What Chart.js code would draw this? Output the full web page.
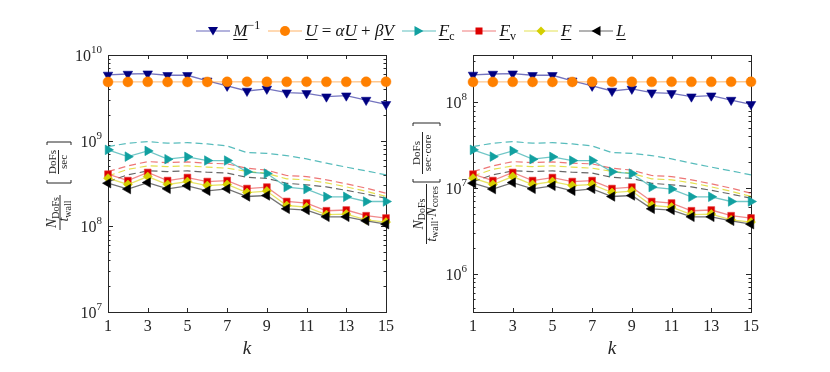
<!DOCTYPE html>
<html lang="en">

<head>
    <meta charset="UTF-8" />
    <title>Throughput vs k</title>
    <script src="https://cdn.jsdelivr.net/npm/chart.js"></script>
    <style>
        body {
            margin: 0;
            background: #fff;
        }

        #wrap {
            position: relative;
            width: 830px;
            height: 372px;
        }

        #wrap canvas {
            position: absolute;
            left: 0;
            top: 0;
        }

        #legend {
            position: absolute;
            left: 0;
            top: 21px;
            width: 830px;
            height: 20px;
            display: flex;
            justify-content: center;
            align-items: center;
            font-family: 'Liberation Serif', serif;
            font-size: 17px;
            color: #111;
            z-index: 2;
        }

        #legend svg {
            margin-right: 3px;
        }

        #legend .item {
            margin-right: 8px;
            white-space: nowrap;
        }

        #legend .u {
            text-decoration: underline;
            text-decoration-thickness: 1px;
            text-underline-offset: 3px;
        }

        #legend sub,
        #legend sup {
            font-size: 12px;
            line-height: 0;
        }
    </style>
</head>

<body>
    <div id="wrap">
        <div id="legend"></div>
        <canvas id="leftChart" width="830" height="372"></canvas>
        <canvas id="rightChart" width="830" height="372"></canvas>
    </div>

    <script>
        // k values (x axis)
        const kValues = [1, 2, 3, 4, 5, 6, 7, 8, 9, 10, 11, 12, 13, 14, 15];
        const xTicks = [1, 3, 5, 7, 9, 11, 13, 15];

        // throughput N_DoFs / t_wall
        const minvData = [5.85e9, 6.0e9, 6.05e9, 5.8e9, 5.8e9, 5.0e9, 4.36e9, 3.8e9, 4.02e9, 3.63e9, 3.57e9, 3.26e9, 3.35e9, 2.98e9, 2.66e9];
        const updateData = [4.85e9, 4.85e9, 4.86e9, 4.85e9, 4.85e9, 4.85e9, 4.86e9, 4.87e9, 4.86e9, 4.86e9, 4.87e9, 4.86e9, 4.86e9, 4.87e9, 4.87e9];
        const fcData = [7.81e8, 6.51e8, 7.60e8, 6.08e8, 6.47e8, 5.86e8, 5.86e8, 4.33e8, 4.13e8, 2.87e8, 2.72e8, 2.21e8, 2.21e8, 1.95e8, 1.95e8];
        const fvData = [4.06e8, 3.42e8, 4.25e8, 3.42e8, 3.71e8, 3.33e8, 3.42e8, 2.76e8, 2.87e8, 1.95e8, 1.87e8, 1.52e8, 1.55e8, 1.33e8, 1.25e8];
        const fData = [3.65e8, 3.08e8, 3.81e8, 3.08e8, 3.33e8, 2.99e8, 3.08e8, 2.48e8, 2.58e8, 1.75e8, 1.68e8, 1.37e8, 1.39e8, 1.19e8, 1.12e8];
        const lData = [3.19e8, 2.72e8, 3.24e8, 2.74e8, 2.97e8, 2.60e8, 2.74e8, 2.23e8, 2.29e8, 1.60e8, 1.55e8, 1.29e8, 1.29e8, 1.16e8, 1.06e8];

        // dashed reference curves (no legend entry)
        const fcDashed = [8.53e8, 9.34e8, 9.75e8, 9.34e8, 9.48e8, 9.16e8, 8.68e8, 7.26e8, 7.11e8, 6.70e8, 6.13e8, 5.46e8, 4.91e8, 4.44e8, 3.99e8];
        const fvDashed = [4.35e8, 5.08e8, 5.70e8, 5.55e8, 5.65e8, 5.46e8, 5.36e8, 4.77e8, 4.53e8, 3.92e8, 3.81e8, 3.49e8, 3.13e8, 2.79e8, 2.44e8];
        const fDashed = [3.88e8, 4.62e8, 5.08e8, 4.99e8, 5.08e8, 4.91e8, 4.77e8, 4.38e8, 4.15e8, 3.58e8, 3.49e8, 3.22e8, 2.89e8, 2.56e8, 2.24e8];
        const lDashed = [3.33e8, 3.99e8, 4.44e8, 4.36e8, 4.44e8, 4.28e8, 4.18e8, 3.73e8, 3.63e8, 3.18e8, 3.05e8, 2.89e8, 2.63e8, 2.38e8, 2.13e8];

        const nCores = 28;

        const axisColor = '#262626';
        Chart.defaults.font.family = "'Liberation Serif', serif";
        Chart.defaults.color = axisColor;

        const series = [
            { data: minvData, color: '#00007f', line: 'rgba(0,0,139,0.55)', style: 'triangle', rot: 180, r: 5.5, order: 5 },
            { data: updateData, color: '#ff8000', line: 'rgba(255,128,0,0.45)', style: 'circle', rot: 0, r: 5, order: 4 },
            { data: fcData, color: '#11a0a0', line: 'rgba(17,160,160,0.6)', style: 'triangle', rot: 90, r: 5.5, order: 3 },
            { data: fvData, color: '#dd0000', line: 'rgba(230,60,60,0.6)', style: 'rect', rot: 0, r: 4.8, order: 2 },
            { data: fData, color: '#d4cf00', line: 'rgba(215,210,0,0.6)', style: 'rectRot', rot: 0, r: 4.5, order: 1 },
            { data: lData, color: '#000000', line: 'rgba(0,0,0,0.55)', style: 'triangle', rot: 270, r: 5.5, order: 0 },
        ];
        const dashedSeries = [
            { data: fcDashed, line: 'rgba(17,160,160,0.7)' },
            { data: fvDashed, line: 'rgba(230,60,60,0.7)' },
            { data: fDashed, line: 'rgba(215,210,0,0.7)' },
            { data: lDashed, line: 'rgba(0,0,0,0.6)' },
        ];

        function toPoints(arr, factor) {
            return kValues.map((k, i) => ({ x: k, y: arr[i] / factor }));
        }

        function buildDatasets(factor) {
            const sets = dashedSeries.map(s => ({
                data: toPoints(s.data, factor),
                borderColor: s.line,
                borderWidth: 1.2,
                borderDash: [7, 4],
                pointRadius: 0,
                order: 10,
                clip: false,
            }));
            series.forEach(s => sets.push({
                data: toPoints(s.data, factor),
                borderColor: s.line,
                borderWidth: 1.3,
                pointStyle: s.style,
                rotation: s.rot,
                pointRadius: s.r,
                pointBackgroundColor: s.color,
                pointBorderColor: s.line,
                pointBorderWidth: 1,
                order: s.order,
                clip: false,
            }));
            return sets;
        }

        // rotated text: parts run upward, baseline at screen x = sx, centred on screen y = sy
        function rotText(ctx, parts, sx, sy) {
            ctx.save();
            ctx.rotate(-Math.PI / 2);
            ctx.textAlign = 'left';
            ctx.textBaseline = 'alphabetic';
            let w = 0;
            parts.forEach(p => { ctx.font = p.font; p.w = ctx.measureText(p.t).width; w += p.w; });
            let lx = -sy - w / 2;
            parts.forEach(p => {
                ctx.font = p.font;
                ctx.fillText(p.t, lx, sx + (p.dy || 0));
                lx += p.w;
            });
            ctx.restore();
        }

        function vline(ctx, x, y0, y1) {
            ctx.beginPath();
            ctx.moveTo(x, y0);
            ctx.lineTo(x, y1);
            ctx.stroke();
        }

        function brackets(ctx, yBottom, yTop, x0, x1) {
            ctx.beginPath();
            ctx.moveTo(x0, yBottom - 3); ctx.lineTo(x0, yBottom); ctx.lineTo(x1, yBottom); ctx.lineTo(x1, yBottom - 3);
            ctx.moveTo(x0, yTop + 3); ctx.lineTo(x0, yTop); ctx.lineTo(x1, yTop); ctx.lineTo(x1, yTop + 3);
            ctx.stroke();
        }

        const it = sz => `italic ${sz}px 'Liberation Serif', serif`;
        const rm = sz => `${sz}px 'Liberation Serif', serif`;

        const yTitles = {
            left(ctx) {
                rotText(ctx, [{ t: 'N', font: it(14) }, { t: 'DoFs', font: rm(10), dy: 2.5 }], 56, 212.5);
                vline(ctx, 60, 230, 195);
                rotText(ctx, [{ t: 't', font: it(14) }, { t: 'wall', font: rm(10), dy: 2.5 }], 68, 211);
                brackets(ctx, 183, 142, 47, 71);
                rotText(ctx, [{ t: 'DoFs', font: rm(11) }], 56, 162);
                vline(ctx, 58.5, 174, 150);
                rotText(ctx, [{ t: 'sec', font: rm(11) }], 66.5, 162);
            },
            right(ctx) {
                rotText(ctx, [{ t: 'N', font: it(14) }, { t: 'DoFs', font: rm(10), dy: 2.5 }], 422.5, 214);
                vline(ctx, 426.5, 244, 184);
                rotText(ctx, [{ t: 't', font: it(14) }, { t: 'wall', font: rm(10), dy: 2.5 }, { t: '\u00b7', font: rm(12) }, { t: 'N', font: it(14) }, { t: 'cores', font: rm(10), dy: 2.5 }], 435.5, 214);
                brackets(ctx, 182, 123, 413, 440);
                rotText(ctx, [{ t: 'DoFs', font: rm(11) }], 420, 153);
                vline(ctx, 422.5, 174, 132);
                rotText(ctx, [{ t: 'sec\u00b7core', font: rm(11) }], 431, 153);
            },
        };

        // MATLAB-like box with inward ticks, y labels and y title
        const axesBox = {
            id: 'axesBox',
            beforeDatasetsDraw(chart, args, opts) {
                const { ctx, chartArea: a, scales: { x, y } } = chart;
                ctx.save();
                ctx.strokeStyle = axisColor;
                ctx.fillStyle = axisColor;
                ctx.lineWidth = 1;
                ctx.strokeRect(a.left + 0.5, a.top + 0.5, a.right - a.left, a.bottom - a.top);

                ctx.beginPath();
                xTicks.forEach(k => {
                    const px = Math.round(x.getPixelForValue(k)) + 0.5;
                    ctx.moveTo(px, a.bottom); ctx.lineTo(px, a.bottom - 4);
                    ctx.moveTo(px, a.top); ctx.lineTo(px, a.top + 4);
                });
                const e0 = Math.floor(Math.log10(y.min));
                const e1 = Math.ceil(Math.log10(y.max));
                const majors = [];
                for (let e = e0; e <= e1; e++) {
                    for (let m = 1; m < 10; m++) {
                        const v = m * Math.pow(10, e);
                        if (v < y.min * 0.9999 || v > y.max * 1.0001) continue;
                        const py = Math.round(y.getPixelForValue(v)) + 0.5;
                        const len = m === 1 ? 5 : 2.5;
                        ctx.moveTo(a.left, py); ctx.lineTo(a.left + len, py);
                        ctx.moveTo(a.right, py); ctx.lineTo(a.right - len, py);
                        if (m === 1) majors.push({ e, py });
                    }
                }
                ctx.stroke();

                ctx.textBaseline = 'alphabetic';
                ctx.textAlign = 'left';
                majors.forEach(({ e, py }) => {
                    const expText = String(e);
                    ctx.font = rm(11);
                    const we = ctx.measureText(expText).width;
                    ctx.font = rm(16);
                    const wb = ctx.measureText('10').width;
                    const right = a.left - 6;
                    ctx.fillText('10', right - we - wb, py + 5);
                    ctx.font = rm(11);
                    ctx.fillText(expText, right - we, py - 3);
                });

                yTitles[opts.side](ctx);
                ctx.restore();
            }
        };

        function makeChart(id, factor, area, side) {
            return new Chart(document.getElementById(id), {
                type: 'line',
                data: { datasets: buildDatasets(factor) },
                options: {
                    responsive: false,
                    animation: false,
                    events: [],
                    layout: { padding: { top: area.top, right: 830 - area.right, left: 0, bottom: 0 } },
                    plugins: {
                        legend: { display: false },
                        tooltip: { enabled: false },
                        axesBox: { side },
                    },
                    scales: {
                        x: {
                            type: 'linear',
                            min: 1,
                            max: 15,
                            ticks: { stepSize: 2, padding: 5, font: { size: 16 }, color: axisColor },
                            grid: { display: false, drawTicks: false },
                            border: { display: false },
                            title: { display: true, text: 'k', font: { size: 19, style: 'italic' }, color: axisColor, padding: { top: 0, bottom: 12 } },
                            afterFit: s => { s.height = 372 - area.bottom; },
                        },
                        y: {
                            type: 'logarithmic',
                            min: 1e7 / factor,
                            max: 1e10 / factor,
                            ticks: { display: false },
                            grid: { display: false, drawTicks: false },
                            border: { display: false },
                            afterFit: s => { s.width = area.left; },
                        },
                    },
                },
                plugins: [axesBox],
            });
        }

        makeChart('leftChart', 1, { left: 108, right: 386, top: 55, bottom: 312 }, 'left');
        makeChart('rightChart', nCores, { left: 473, right: 751, top: 55, bottom: 312 }, 'right');

        // legend
        const legendItems = [
            { marker: '<polygon points="12,3 22,3 17,11.5" />', color: '#00007f', line: 'rgba(0,0,139,0.4)', html: '<i class="u">M</i><sup>\u22121</sup>' },
            { marker: '<circle cx="17" cy="7" r="5" />', color: '#ff8000', line: 'rgba(255,128,0,0.4)', html: '<i class="u">U</i> = <i>\u03b1</i><i class="u">U</i> + <i>\u03b2</i><i class="u">V</i>' },
            { marker: '<polygon points="12.5,2 12.5,12 21.5,7" />', color: '#11a0a0', line: 'rgba(17,160,160,0.45)', html: '<i class="u">F</i><sub>c</sub>' },
            { marker: '<rect x="13.5" y="3.5" width="7" height="7" />', color: '#dd0000', line: 'rgba(230,60,60,0.45)', html: '<i class="u">F</i><sub>v</sub>' },
            { marker: '<polygon points="17,2.5 21.5,7 17,11.5 12.5,7" />', color: '#d4cf00', line: 'rgba(215,210,0,0.45)', html: '<i class="u">F</i>' },
            { marker: '<polygon points="21.5,2 21.5,12 12.5,7" />', color: '#000000', line: 'rgba(0,0,0,0.4)', html: '<i class="u">L</i>' },
        ];
        document.getElementById('legend').innerHTML = legendItems.map(d =>
            `<svg width="34" height="14" viewBox="0 0 34 14"><line x1="0" y1="7" x2="34" y2="7" stroke="${d.line}" stroke-width="1.5"/>` +
            `<g fill="${d.color}">${d.marker}</g></svg><span class="item">${d.html}</span>`
        ).join('');
    </script>
</body>

</html>
